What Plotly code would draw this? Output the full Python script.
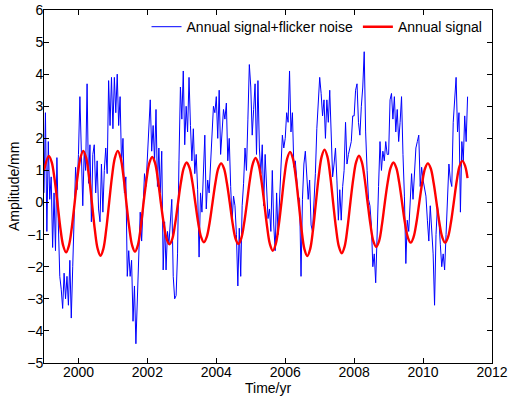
import plotly.graph_objects as go

# ---------------- data ----------------
blue_start = 1999.0
blue_step = 1.0 / 24.0

b1999 = [0.3, 2.8, -0.9, 1.9, 0.1, 0.8, -1.4, 0.3, -1.5, 1.4, -0.7, -2.3,
         -2.7, -3.3, -2.2, -3.0, -2.3, -3.2, -1.8, -3.6, -2.0, -0.4, 1.1, 0.4]
b2000 = [1.5, 3.3, 1.2, -0.1, 1.6, 1.0, 3.7, 0.6, 1.8, -0.6, 1.5, 1.8,
         0.3, 1.3, -0.2, -0.6, 1.2, -0.3, 1.0, 1.7, 0.9, 3.8, 2.4, 3.9]
b2001 = [2.3, 3.9, 2.8, 4.0, 2.4, 3.3, 1.2, 2.0, 0.3, 0.8, -2.3, -1.5,
         -2.3, -1.8, -3.7, -2.6, -4.4, -2.8, -1.3, -0.3, -1.2, -0.2, 0.9, 0.5]
b2002 = [1.4, 2.3, 3.2, 1.6, 2.4, 1.3, 2.9, 0.5, 1.7, 0.3, 1.6, -2.1,
         -0.6, -2.1, -0.9, -1.3, -0.4, 0.1, -2.3, -3.0, -2.9, -1.6, 1.3, 3.6]
b2003 = [2.6, 4.1, 1.8, 3.0, 2.2, 3.9, 2.4, 1.3, 2.3, 0.9, 1.5, 0.4,
         -1.7, 0.3, -0.3, 0.7, 2.1, -0.2, 0.7, 0.3, 1.2, 2.2, 3.0, 2.8]
b2004 = [3.3, 2.0, 3.5, 1.5, 2.2, 2.9, 2.6, 3.1, 1.3, 2.0, 0.5, -0.55,
         0.2, -0.1, -1.0, -2.6, -0.8, -2.3, -0.1, 0.6, 1.7, 1.0, 2.6, 4.3]
b2005 = [3.6, 2.1, 2.9, 3.7, 1.5, 3.8, 1.7, 0.9, 1.8, -0.1, 1.5, 0.7,
         -0.5, -0.2, -0.9, 1.0, -0.7, -1.5, 0.3, -1.0, 0.2, 1.2, 2.1, 1.7]
b2006 = [2.0, 2.8, 2.5, 4.1, 2.2, 2.8, 1.1, 1.3, 0.7, 0.2, 0.1, -2.3,
         0.1, 1.2, 1.6, 0.8, 0.1, 0.7, -0.7, -0.9, -0.1, 0.9, 2.3, 3.0]
b2007 = [3.9, 3.4, 2.7, 3.2, 2.0, 3.2, 2.5, 3.5, 1.9, 0.8, 1.2, 1.7,
         0.7, -0.55, 0.4, -0.55, 0.5, 1.0, 2.5, 1.2, 1.5, 1.7, 1.9, 2.7]
b2008 = [2.7, 3.5, 3.7, 2.5, 2.1, 3.0, 3.6, 4.7, 2.2, 1.0, 0.1, -0.1,
         -0.7, -2.0, -1.6, -2.5, -0.7, 0.5, 1.9, 1.0, 1.6, 1.3, 1.9, 1.5]
b2009 = [1.5, 3.2, 3.4, 2.6, 3.3, 2.2, 2.9, 1.9, 2.5, 3.3, 1.5, 0.2,
         -1.9, -0.55, -0.9, -0.1, 0.9, 0.1, 1.0, 1.7, 1.9, 2.1, 0.5, 1.1]
b2010 = [0.7, 0.4, 0.2, -0.55, -1.2, -0.1, -0.9, -1.6, -3.2, -1.0, -0.1, -0.5,
         -1.3, -2.0, -1.6, -2.1, -1.0, -0.1, 1.2, 0.7, 0.5, 2.5, 3.2, 3.9]
b2011 = [2.2, 2.8, -0.3, 1.9, 1.3, 2.7, 1.9, 3.3]

# annual signal: start point, monthly samples from the first peak, end point
red_start_time = 1999.0
red_first_peak = 1999.14
red_step = 1.0 / 12.0
red_end_time = 2011.29

r_start = [1.0]
r1999 = [1.45, 1.26, 0.73, 0.00, -0.78, -1.34, -1.55, -1.34, -0.78, 0.00, 0.81, 1.39]
r2000 = [1.61, 1.39, 0.81, 0.00, -0.83, -1.44, -1.66, -1.44, -0.83, 0.00, 0.81, 1.39]
r2001 = [1.61, 1.39, 0.81, 0.00, -0.77, -1.33, -1.53, -1.33, -0.77, 0.00, 0.71, 1.23]
r2002 = [1.42, 1.23, 0.71, 0.00, -0.65, -1.13, -1.30, -1.13, -0.65, 0.00, 0.63, 1.08]
r2003 = [1.25, 1.08, 0.63, 0.00, -0.62, -1.07, -1.24, -1.07, -0.62, 0.00, 0.61, 1.06]
r2004 = [1.22, 1.06, 0.61, 0.00, -0.65, -1.12, -1.29, -1.12, -0.65, 0.00, 0.70, 1.20]
r2005 = [1.39, 1.20, 0.70, 0.00, -0.75, -1.30, -1.50, -1.30, -0.75, 0.00, 0.79, 1.37]
r2006 = [1.58, 1.37, 0.79, 0.00, -0.84, -1.45, -1.67, -1.45, -0.84, 0.00, 0.83, 1.43]
r2007 = [1.65, 1.43, 0.83, 0.00, -0.79, -1.37, -1.58, -1.37, -0.79, 0.00, 0.73, 1.26]
r2008 = [1.46, 1.26, 0.73, 0.00, -0.69, -1.20, -1.38, -1.20, -0.69, 0.00, 0.63, 1.08]
r2009 = [1.25, 1.08, 0.63, 0.00, -0.63, -1.08, -1.25, -1.08, -0.63, 0.00, 0.61, 1.06]
r2010 = [1.22, 1.06, 0.61, 0.00, -0.63, -1.08, -1.25, -1.08, -0.63, 0.00, 0.65, 1.13]
r2011 = [1.30, 1.13]
r_end = [0.76]

x_ticks = [2000, 2002, 2004, 2006, 2008, 2010, 2012]
y_ticks = [-5, -4, -3, -2, -1, 0, 1, 2, 3, 4, 5, 6]

series_names = ["Annual signal+flicker noise", "Annual signal"]
x_title = "Time/yr"
y_title = "Amplitude/mm"

# ---------------- build ----------------
blue_vals = (b1999 + b2000 + b2001 + b2002 + b2003 + b2004 + b2005 + b2006
             + b2007 + b2008 + b2009 + b2010 + b2011)
blue_time = [blue_start + i * blue_step for i in range(len(blue_vals))]

red_cycles = (r1999 + r2000 + r2001 + r2002 + r2003 + r2004 + r2005 + r2006
              + r2007 + r2008 + r2009 + r2010 + r2011)
red_vals = r_start + red_cycles + r_end
red_time = ([red_start_time]
            + [red_first_peak + k * red_step for k in range(len(red_cycles))]
            + [red_end_time])

fig = go.Figure()
fig.add_trace(go.Scatter(x=blue_time, y=blue_vals, mode="lines",
                         name=series_names[0],
                         line=dict(color="#0000FF", width=1)))
fig.add_trace(go.Scatter(x=red_time, y=red_vals, mode="lines",
                         name=series_names[1],
                         line=dict(color="#FF0000", width=2.4, shape="spline")))

font_family = "Liberation Sans, Arial, Helvetica, sans-serif"
axis_common = dict(showline=True, linecolor="black", linewidth=1,
                   mirror="allticks", ticks="inside", ticklen=5,
                   tickcolor="black", showgrid=False, zeroline=False,
                   tickfont=dict(size=14, color="black", family=font_family))

fig.update_layout(
    width=510, height=396,
    margin=dict(l=44, r=18, t=10, b=33, autoexpand=False),
    paper_bgcolor="white", plot_bgcolor="white",
    font=dict(family=font_family, size=14, color="black"),
    xaxis=dict(range=[1999, 2012], tickvals=x_ticks, ticklabelstandoff=-4,
               **axis_common),
    yaxis=dict(range=[-5, 6], tickvals=y_ticks, ticklabelstandoff=-3,
               **axis_common),
    legend=dict(orientation="h", xref="paper", x=0.99, xanchor="right",
                yref="container", y=0.972, yanchor="top",
                bgcolor="rgba(0,0,0,0)",
                font=dict(size=14, family=font_family),
                itemwidth=30, tracegroupgap=0),
    showlegend=True,
    annotations=[
        dict(text=x_title, xref="paper", yref="paper", x=0.5, y=-0.071,
             xanchor="center", yanchor="middle", showarrow=False,
             font=dict(size=14, family=font_family, color="black")),
        dict(text=y_title, xref="paper", yref="paper", x=-0.068, y=0.5,
             xanchor="center", yanchor="middle", textangle=-90,
             showarrow=False,
             font=dict(size=14, family=font_family, color="black")),
    ],
)

fig.write_html("out.html",
               config={"displayModeBar": False},
               post_script="document.body.style.margin='0';"
                           "document.body.style.padding='0';")
